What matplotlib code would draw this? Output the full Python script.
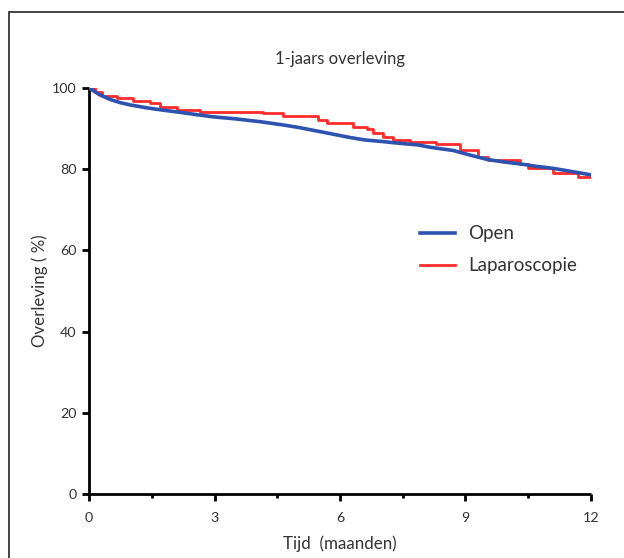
#!/usr/bin/env python

"""
1-jaars overleving: Open vs Laparoscopie (Kaplan-Meier style curves).
"""

import matplotlib
matplotlib.use('Agg')
import matplotlib.pyplot as plt
from matplotlib.patches import Rectangle

# Open (blue) - smooth curve
open_t = [0, 0.26, 0.5, 0.74, 1.0, 1.39, 1.8, 2.18, 2.6, 2.97, 3.5, 4.09,
          4.64, 5.0, 5.45, 5.8, 6.24, 6.6, 7.03, 7.4, 7.85, 8.16, 8.71, 9.1,
          9.52, 9.9, 10.31, 10.7, 11.1, 11.5, 12]
open_s = [100, 98.3, 97.2, 96.4, 95.8, 95.1, 94.5, 94.0, 93.4, 92.9, 92.4, 91.7,
          90.9, 90.3, 89.4, 88.7, 87.8, 87.2, 86.8, 86.4, 86.0, 85.4, 84.6, 83.5,
          82.4, 81.8, 81.3, 80.7, 80.2, 79.5, 78.6]

# Laparoscopie (red) - step curve
lap_t = [0, 0.15, 0.3, 0.67, 1.05, 1.46, 1.70, 2.11, 2.66, 4.16, 4.64, 5.48,
         5.69, 6.32, 6.65, 6.80, 7.03, 7.27, 7.68, 8.3, 8.88, 9.30, 9.54,
         10.3, 10.5, 11.1, 11.7, 12]
lap_s = [100, 99.0, 98.0, 97.5, 96.9, 96.2, 95.4, 94.7, 94.2, 93.8, 93.2, 92.1,
         91.5, 90.5, 89.8, 88.8, 88.0, 87.2, 86.7, 86.2, 84.7, 83.1, 82.3,
         81.2, 80.2, 79.0, 78.2, 78.2]

XTICKS = [0, 3, 6, 9, 12]
YTICKS = [0, 20, 40, 60, 80, 100]

TXT = '#333333'


def main():
    plt.rcParams['font.family'] = ['Lato', 'DejaVu Sans']

    fig = plt.figure(figsize=(6.24, 5.58), dpi=100)
    fig.patch.set_facecolor('white')

    # outer frame (only top and left edges fall inside the picture)
    fig.patches.append(Rectangle((9 / 624, -0.1), 1.1, 0.1 + (558 - 12) / 558,
                                 transform=fig.transFigure, fill=False,
                                 edgecolor='#222222', lw=1.2))

    ax = fig.add_axes([89 / 624, (558 - 494) / 558, 502 / 624, 406 / 558])

    ax.plot(open_t, open_s, color='#2d52b0', lw=2.6, label='Open',
            solid_joinstyle='round', zorder=3)
    ax.step(lap_t, lap_s, where='post', color='#ff2a2a', lw=2.0,
            label='Laparoscopie', zorder=2)

    ax.set_xlim(0, 12)
    ax.set_ylim(0, 100)
    ax.set_xticks(XTICKS)
    ax.set_xticks([1.5, 4.5, 7.5, 10.5], minor=True)
    ax.set_yticks(YTICKS)

    for s in ['top', 'right']:
        ax.spines[s].set_visible(False)
    for s in ['left', 'bottom']:
        ax.spines[s].set_linewidth(2)
        ax.spines[s].set_color('black')
        ax.spines[s].set_capstyle('butt')

    ax.tick_params(axis='both', which='major', direction='out', length=5,
                   width=2, labelsize=10.3, labelcolor=TXT)
    ax.tick_params(axis='x', which='major', pad=8)
    ax.tick_params(axis='y', which='major', pad=4)
    ax.tick_params(axis='x', which='minor', direction='out', length=3, width=2)

    ax.set_title('1-jaars overleving', fontsize=12, color=TXT, pad=17)
    ax.set_xlabel('Tijd  (maanden)', fontsize=12.2, color=TXT, labelpad=8)
    ax.set_ylabel('Overleving ( %)', fontsize=12.2, color=TXT, labelpad=3)

    ax.legend(loc='center left', bbox_to_anchor=(0.659, 0.601), frameon=False,
              fontsize=13.5, labelcolor=TXT, borderpad=0, borderaxespad=0,
              handlelength=1.9, handletextpad=0.7, labelspacing=0.8)

    fig.savefig('out.png', dpi=100)


if __name__ == "__main__":
    main()
